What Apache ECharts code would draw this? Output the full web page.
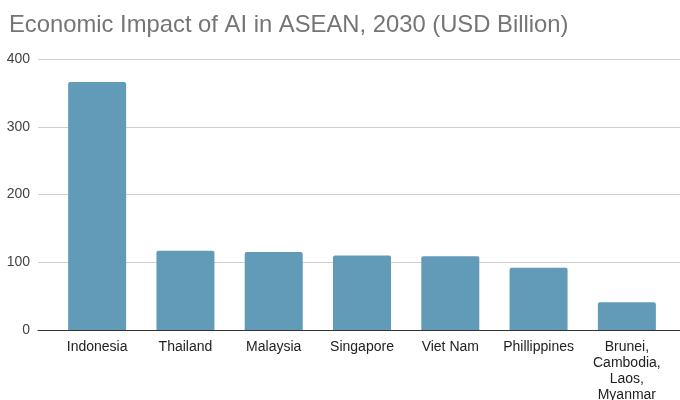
<!DOCTYPE html>
<html>
<head>
<meta charset="utf-8">
<script src="https://cdn.jsdelivr.net/npm/echarts@6/dist/echarts.min.js"></script>
<style>
  html, body { margin: 0; padding: 0; background: #fff; }
  #chart { width: 680px; height: 400px; }
</style>
</head>
<body>
<div id="chart"></div>
<script>
// Economic impact of AI by ASEAN country, 2030 (USD billion)
const countries = ['Indonesia', 'Thailand', 'Malaysia', 'Singapore', 'Viet Nam', 'Phillippines', 'Brunei,\nCambodia,\nLaos,\nMyanmar'];
const impactUsdBn = [366, 117, 115, 110, 109, 92, 41];
const yTicks = [0, 100, 200, 300, 400];

const font = 'Arial, "Liberation Sans", sans-serif';
const chart = echarts.init(document.getElementById('chart'), null, { renderer: 'canvas' });

chart.setOption({
  animation: false,
  backgroundColor: '#ffffff',
  title: {
    text: 'Economic Impact of AI in ASEAN, 2030 (USD Billion)',
    left: 4,
    top: 8,
    textStyle: { fontFamily: font, fontSize: 23.8, fontWeight: 'normal', color: '#757575' }
  },
  grid: [
    // full-width grid carrying the value gridlines and tick labels
    { left: 38, right: 0, top: 59, bottom: 70, outerBoundsMode: 'none', containLabel: false },
    // inner grid holding the bars
    { left: 53, right: 9, top: 59, bottom: 70, outerBoundsMode: 'none', containLabel: false }
  ],
  xAxis: [
    { gridIndex: 0, type: 'category', data: countries, show: true,
      axisLine: { show: true, lineStyle: { color: '#333', width: 1 } },
      axisTick: { show: false }, axisLabel: { show: false } },
    { gridIndex: 1, type: 'category', data: countries,
      axisLine: { show: false }, axisTick: { show: false },
      axisLabel: { fontFamily: font, fontSize: 14, color: '#222', margin: 9, lineHeight: 16, interval: 0 } }
  ],
  yAxis: [
    { gridIndex: 0, type: 'value', min: yTicks[0], max: yTicks[yTicks.length - 1], interval: 100,
      axisLine: { show: false }, axisTick: { show: false },
      axisLabel: { fontFamily: font, fontSize: 14, color: '#444', margin: 8 },
      splitLine: { lineStyle: { color: '#d0d0d0', width: 1 } } },
    { gridIndex: 1, type: 'value', min: yTicks[0], max: yTicks[yTicks.length - 1], interval: 100,
      show: false, splitLine: { show: false } }
  ],
  series: [{
    type: 'bar',
    xAxisIndex: 1,
    yAxisIndex: 1,
    data: impactUsdBn,
    barWidth: 58,
    itemStyle: { color: '#619bb8', borderRadius: [2, 2, 0, 0] }
  }]
});
</script>
</body>
</html>
